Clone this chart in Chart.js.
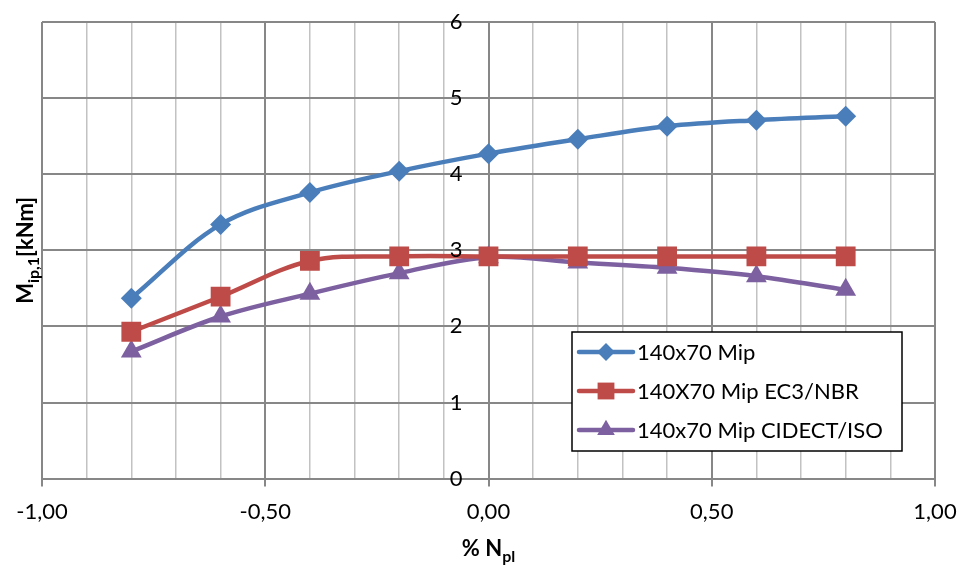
<!DOCTYPE html>
<html>
<head>
<meta charset="utf-8">
<script src="https://cdn.jsdelivr.net/npm/chart.js@4.4.1/dist/chart.umd.min.js"></script>
<style>
  body { margin: 0; background: #fff; }
  #wrap { width: 963px; height: 565px; }
</style>
</head>
<body>
<div id="wrap"><canvas id="chart" width="963" height="565"></canvas></div>
<script>
// axial load ratio (% Npl)
const loadRatio = [-0.8, -0.6, -0.4, -0.2, 0, 0.2, 0.4, 0.6, 0.8];
// moments in kNm
const mipTest = [2.37, 3.34, 3.76, 4.04, 4.27, 4.46, 4.63, 4.71, 4.76];
const mipEc3Nbr = [1.93, 2.39, 2.86, 2.92, 2.92, 2.92, 2.92, 2.92, 2.92];
const mipCidectIso = [1.67, 2.13, 2.43, 2.70, 2.91, 2.84, 2.77, 2.66, 2.48];
const seriesNames = ['140x70 Mip', '140X70 Mip EC3/NBR', '140x70 Mip CIDECT/ISO'];
const xTickLabels = ['-1,00', '-0,50', '0,00', '0,50', '1,00'];

const FONT = 'Lato, "Open Sans", sans-serif';
const MAJOR = '#878787';
const MINOR = '#c2c2c2';

const toPoints = (ys) => ys.map((y, i) => ({ x: loadRatio[i], y }));
const isMajor = (v) => Math.abs(Math.round(v * 10) % 5) === 0;

const datasets = [
    { label: seriesNames[0], data: toPoints(mipTest), borderColor: '#4a7ebb', backgroundColor: '#4a7ebb', pointStyle: 'rectRot', pointRadius: 10.5 },
    { label: seriesNames[1], data: toPoints(mipEc3Nbr), borderColor: '#be4b48', backgroundColor: '#be4b48', pointStyle: 'rect', pointRadius: 14 },
    { label: seriesNames[2], data: toPoints(mipCidectIso), borderColor: '#7d60a0', backgroundColor: '#7d60a0', pointStyle: 'triangle', pointRadius: 12 }
].map(d => Object.assign(d, { borderWidth: 4.5, tension: 0.35, pointBorderWidth: 0, pointHoverRadius: d.pointRadius }));

// y tick labels (axis sits at x = 0), legend box, axis titles with subscripts
const extras = {
    id: 'extras',
    afterDraw(chart) {
        const ctx = chart.ctx;
        const area = chart.chartArea;
        const yScale = chart.scales.y;
        const x0 = chart.scales.x.getPixelForValue(0);
        ctx.save();

        ctx.fillStyle = '#000';
        ctx.font = '22px ' + FONT;
        ctx.textAlign = 'right';
        ctx.textBaseline = 'middle';
        yScale.ticks.forEach(t => {
            ctx.fillText(String(t.value), x0 - 26, yScale.getPixelForValue(t.value));
        });

        // legend
        const bx = 572, by = 332, bw = 330, bh = 119;
        ctx.fillStyle = '#fff';
        ctx.fillRect(bx, by, bw, bh);
        ctx.strokeStyle = '#000';
        ctx.lineWidth = 1.5;
        ctx.strokeRect(bx, by, bw, bh);
        ctx.font = '22px ' + FONT;
        ctx.textAlign = 'left';
        chart.data.datasets.forEach((ds, i) => {
            const y = by + 20 + i * 39;
            ctx.strokeStyle = ds.borderColor;
            ctx.lineWidth = 4.5;
            ctx.lineCap = 'round';
            ctx.beginPath();
            ctx.moveTo(579, y);
            ctx.lineTo(633, y);
            ctx.stroke();
            ctx.fillStyle = ds.backgroundColor;
            Chart.helpers.drawPoint(ctx, { pointStyle: ds.pointStyle, radius: ds.pointRadius * 0.85, borderWidth: 0 }, 606, y);
            ctx.fillStyle = '#000';
            ctx.fillText(ds.label, 637, y + 1);
        });

        // x title: % N_pl
        ctx.fillStyle = '#000';
        ctx.textBaseline = 'alphabetic';
        const xMain = '% N', xSub = 'pl';
        ctx.font = 'bold 22px ' + FONT;
        const w1 = ctx.measureText(xMain).width;
        ctx.font = 'bold 16px ' + FONT;
        const w2 = ctx.measureText(xSub).width;
        let sx = (area.left + area.right) / 2 - (w1 + w2) / 2;
        ctx.font = 'bold 22px ' + FONT;
        ctx.fillText(xMain, sx, 556);
        ctx.font = 'bold 16px ' + FONT;
        ctx.fillText(xSub, sx + w1, 562);

        // y title: M_ip,1 [kNm]
        ctx.translate(33, (area.top + area.bottom) / 2);
        ctx.rotate(-Math.PI / 2);
        const parts = [['M', 22, 0], ['ip,1', 16, 6], ['[kNm]', 22, 0]];
        let total = 0;
        parts.forEach(p => { ctx.font = 'bold ' + p[1] + 'px ' + FONT; total += ctx.measureText(p[0]).width; });
        let px = -total / 2;
        parts.forEach(p => {
            ctx.font = 'bold ' + p[1] + 'px ' + FONT;
            ctx.fillText(p[0], px, p[2]);
            px += ctx.measureText(p[0]).width;
        });
        ctx.restore();
    }
};

new Chart(document.getElementById('chart'), {
    type: 'line',
    data: { datasets },
    options: {
        responsive: false,
        animation: false,
        layout: { padding: { left: 42, right: 28, top: 22, bottom: 28 } },
        plugins: { legend: { display: false }, tooltip: { enabled: false } },
        scales: {
            x: {
                type: 'linear',
                min: -1, max: 1,
                afterFit: s => { s.paddingLeft = 0; s.paddingRight = 0; },
                border: { color: MAJOR, width: 2 },
                grid: {
                    color: c => isMajor(c.tick.value) ? MAJOR : MINOR,
                    lineWidth: c => isMajor(c.tick.value) ? 2 : 1.5,
                    tickColor: c => isMajor(c.tick.value) ? MAJOR : 'rgba(0,0,0,0)',
                    tickLength: 8
                },
                ticks: {
                    stepSize: 0.1,
                    autoSkip: false,
                    maxRotation: 0,
                    padding: 12,
                    color: '#000',
                    font: { family: FONT, size: 22 },
                    callback: v => isMajor(v) ? xTickLabels[Math.round(v * 2) + 2] : ''
                }
            },
            y: {
                position: { x: 0 },
                min: 0, max: 6,
                border: { color: MAJOR, width: 2 },
                grid: { color: MAJOR, lineWidth: 2, tickLength: 8 },
                ticks: { stepSize: 1, display: false }
            }
        }
    },
    plugins: [extras]
});
</script>
</body>
</html>
